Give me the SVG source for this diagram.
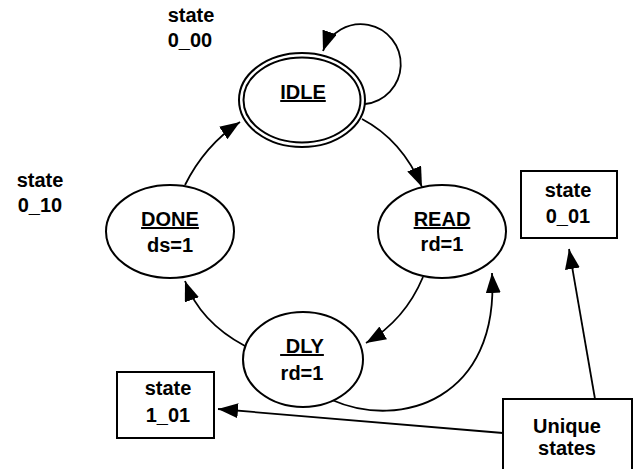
<svg xmlns="http://www.w3.org/2000/svg" width="636" height="469" viewBox="0 0 636 469">
<style>
text{font-family:"Liberation Sans",Arial,sans-serif;font-weight:bold;font-size:20px;fill:#000;text-anchor:middle}
.u{text-decoration:underline;white-space:pre}
.st{fill:#fff;stroke:#000;stroke-width:2}
.c{fill:none;stroke:#000;stroke-width:1.8;marker-end:url(#ah)}
</style>
<defs>
<marker id="ah" markerUnits="userSpaceOnUse" markerWidth="22" markerHeight="16" refX="20" refY="7.5" orient="auto">
<path d="M0,0 L20,7.5 L0,15 z" fill="#000"/>
</marker>
</defs>
<rect width="636" height="469" fill="#fff"/>
<g id="connectors">
<path class="c" d="M365,104 A40,40 0 1,0 323,51"/>
<path class="c" d="M362,119 Q402,140 422,187"/>
<path class="c" d="M423,277 Q405,320 366,343"/>
<path class="c" d="M332,400 C400,430 500,400 492,273"/>
<path class="c" d="M245,346 Q200,322 185,281"/>
<path class="c" d="M185,185 Q205,145 240,122"/>
<path class="c" d="M503,433 L218,409"/>
<path class="c" d="M595,399 L569,249"/>
</g>
<g id="IDLE">
<ellipse class="st" cx="302" cy="100" rx="63" ry="47"/>
<ellipse fill="none" stroke="#000" stroke-width="2" cx="302" cy="100" rx="58.5" ry="42.5"/>
<text class="u" x="303" y="99">IDLE</text>
</g>
<g id="READ">
<ellipse class="st" cx="442" cy="231.5" rx="64" ry="46.5"/>
<text class="u" x="442" y="226">READ</text>
<text x="442" y="251">rd=1</text>
</g>
<g id="DONE">
<ellipse class="st" cx="170" cy="231.5" rx="64" ry="46.5"/>
<text class="u" x="170" y="226">DONE</text>
<text x="170" y="252">ds=1</text>
</g>
<g id="DLY">
<ellipse class="st" cx="303" cy="359.5" rx="60" ry="47.5"/>
<text class="u" x="302" y="353"> DLY</text>
<text x="302" y="380">rd=1</text>
</g>
<g id="label-0_00">
<text x="191" y="22">state</text>
<text x="190" y="47">0_00</text>
</g>
<g id="label-0_10">
<text x="40" y="187">state</text>
<text x="40" y="212">0_10</text>
</g>
<g id="box-0_01">
<rect class="st" x="521" y="171" width="96" height="67"/>
<text x="568" y="197">state</text>
<text x="568" y="223">0_01</text>
</g>
<g id="box-1_01">
<rect class="st" x="117" y="372" width="97" height="66"/>
<text x="168" y="395">state</text>
<text x="168" y="422">1_01</text>
</g>
<g id="unique">
<rect class="st" x="503" y="399" width="129" height="80"/>
<text x="567" y="433">Unique</text>
<text x="567" y="455">states</text>
</g>
</svg>
